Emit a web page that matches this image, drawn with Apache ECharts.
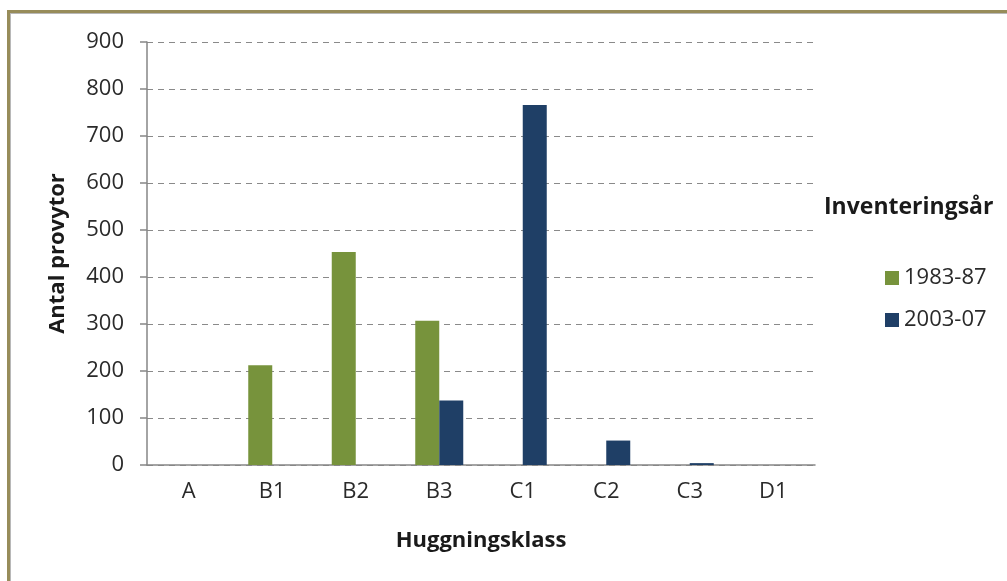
<!DOCTYPE html>
<html><head><meta charset="utf-8">
<script src="https://cdn.jsdelivr.net/npm/echarts@6/dist/echarts.min.js"></script>
<style>
html,body{margin:0;padding:0;background:#fff;width:1007px;height:581px;overflow:hidden;}
#frame{position:absolute;left:7px;top:10px;width:1100px;height:700px;border-left:3px solid #978C5A;border-top:3px solid #978C5A;box-shadow:inset 1px 1px 0 #b8b8b8;}
#chart{position:absolute;left:0;top:0;width:1007px;height:581px;}
</style></head>
<body>
<div id="frame"></div>
<div id="chart"></div>
<script>
const categories = ['A','B1','B2','B3','C1','C2','C3','D1'];
const seriesNames = ['1983-87','2003-07'];
const values1983 = [0, 212, 453, 307, 0, 0, 0, 0];
const values2003 = [0, 0, 0, 137, 766, 52, 4, 0];
const yTicks = [0, 900, 100];

const font = "'Open Sans', 'Noto Sans', sans-serif";
const chart = echarts.init(document.getElementById('chart'));
chart.setOption({
  backgroundColor: 'transparent',
  animation: false,
  title: {
    text: 'Inventeringsår', left: 819, top: 191,
    textStyle: {fontFamily: font, fontSize: 23, fontWeight: 'bold', color: '#1a1a1a'}
  },
  legend: {
    orient: 'vertical', left: 880, top: 262,
    itemWidth: 14, itemHeight: 14, itemGap: 20,
    icon: 'rect',
    textStyle: {fontFamily: font, fontSize: 22, color: '#2a2a2a'},
    data: seriesNames
  },
  grid: {left: 147, right: 192, top: 42, bottom: 116},
  xAxis: {
    type: 'category', data: categories,
    name: 'Huggningsklass', nameLocation: 'middle', nameGap: 65,
    nameTextStyle: {fontFamily: font, fontSize: 22, fontWeight: 'bold', color: '#1a1a1a'},
    axisLine: {lineStyle: {color: '#868686', width: 1.5}},
    axisTick: {length: 7, lineStyle: {color: '#868686', width: 1.5}},
    axisLabel: {fontFamily: font, fontSize: 22, color: '#2a2a2a', margin: 16}
  },
  yAxis: {
    type: 'value', min: yTicks[0], max: yTicks[1], interval: yTicks[2],
    name: 'Antal provytor', nameLocation: 'middle', nameGap: 78, nameRotate: 90,
    nameTextStyle: {fontFamily: font, fontSize: 22, fontWeight: 'bold', color: '#1a1a1a'},
    axisLine: {show: true, lineStyle: {color: '#868686', width: 1.5}},
    axisTick: {show: true, length: 7, lineStyle: {color: '#868686', width: 1.5}},
    axisLabel: {fontFamily: font, fontSize: 22, color: '#2a2a2a', margin: 23},
    splitLine: {lineStyle: {color: '#8a8a8a', type: [6, 5], width: 1.2}}
  },
  series: [
    {name: seriesNames[0], type: 'bar', data: values1983, barWidth: 24, barGap: '0%',
     itemStyle: {color: '#77933C'}},
    {name: seriesNames[1], type: 'bar', data: values2003, barWidth: 24,
     itemStyle: {color: '#1F3F66'}}
  ]
});
</script>
</body></html>
